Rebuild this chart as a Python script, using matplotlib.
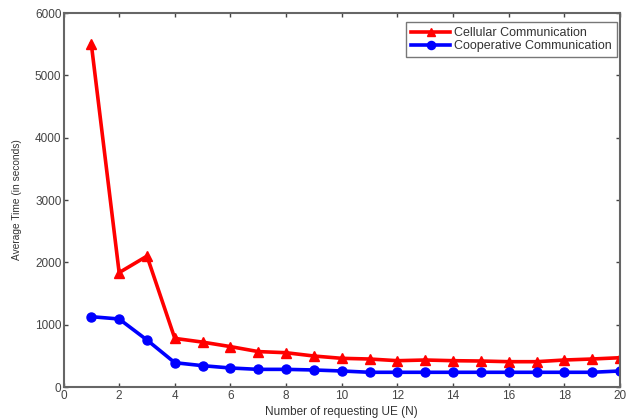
import matplotlib
matplotlib.use("Agg")
import matplotlib.pyplot as plt

plt.rcParams['font.family'] = ['Liberation Sans', 'DejaVu Sans']

N = list(range(1, 21))
cellular = [5500, 1835, 2100, 780, 720, 648, 568, 550, 497, 460, 449, 422, 433, 422, 417, 406, 406, 433, 449, 470]
cooperative = [1128, 1091, 754, 390, 342, 305, 283, 283, 273, 257, 236, 236, 236, 236, 236, 236, 236, 236, 236, 257]
xticks = list(range(0, 21, 2))
yticks = list(range(0, 6001, 1000))

W, H = 640, 419
fig = plt.figure(figsize=(W/100, H/100), dpi=100)
L, R, T, B = 63.5, 620, 13, 387
ax = fig.add_axes([L/W, 1 - B/H, (R-L)/W, (B-T)/H])

ax.plot(N, cellular, color='#ff0000', marker='^', markersize=6.5, linewidth=2.6,
        label='Cellular Communication')
ax.plot(N, cooperative, color='#0000ff', marker='o', markersize=6.5, linewidth=2.6,
        label='Cooperative Communication')

ax.set_xlim(0, 20)
ax.set_ylim(0, 6000)
ax.set_xticks(xticks)
ax.set_yticks(yticks)
ax.tick_params(direction='in', labelsize=8.5, colors='#444444', length=3,
               top=True, right=True, width=1, pad=2)
ax.tick_params(axis='y', pad=1.5)
for s in ax.spines.values():
    s.set_color('#666666')
    s.set_linewidth(1.5)
ax.set_xlabel('Number of requesting UE (N)', fontsize=8.5, color='#333333', labelpad=3)
ax.set_ylabel('Average Time (in seconds)', fontsize=7.3, color='#333333', labelpad=9)

leg = ax.legend(loc='upper right', bbox_to_anchor=(617/W, 1 - 22/H),
                bbox_transform=fig.transFigure, fontsize=9, frameon=True,
                fancybox=False, edgecolor='#555555', handlelength=3.1,
                handletextpad=0.35, borderaxespad=0, labelspacing=0.1,
                borderpad=0.4, markerscale=0.9)
leg.get_frame().set_linewidth(1.0)
for t in leg.get_texts():
    t.set_color('#333333')

fig.savefig('out.png', dpi=100)
